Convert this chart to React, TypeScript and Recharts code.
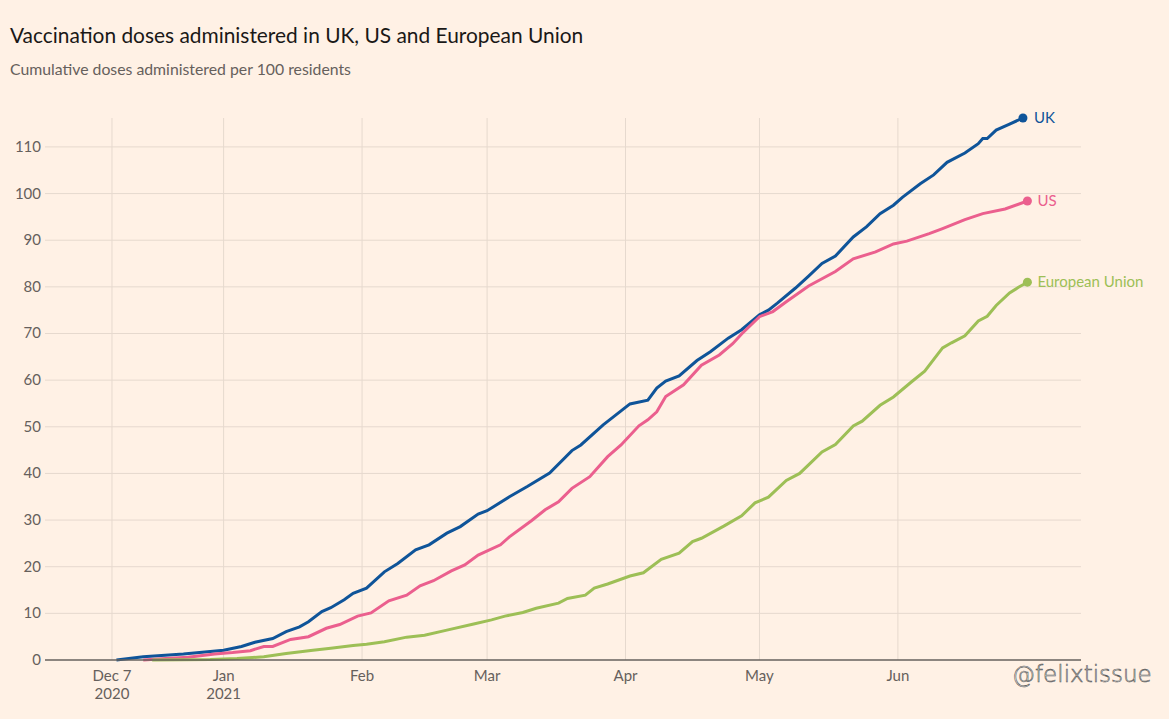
import React from 'react';
import { LineChart, Line, XAxis, YAxis, ReferenceLine } from 'recharts';

// ---- Data (cumulative doses per 100 residents) ----
const ukDates = [
  '2020-12-08', '2020-12-14', '2020-12-23', '2021-01-01', '2021-01-05', '2021-01-08', '2021-01-12',
  '2021-01-15', '2021-01-18', '2021-01-20', '2021-01-23', '2021-01-25', '2021-01-28', '2021-01-30',
  '2021-02-02', '2021-02-06', '2021-02-09', '2021-02-13', '2021-02-16', '2021-02-20', '2021-02-23',
  '2021-02-27', '2021-03-01', '2021-03-06', '2021-03-10', '2021-03-15', '2021-03-20', '2021-03-22',
  '2021-03-27', '2021-03-29', '2021-04-02', '2021-04-06', '2021-04-08', '2021-04-10', '2021-04-13',
  '2021-04-17', '2021-04-20', '2021-04-24', '2021-04-27', '2021-05-01', '2021-05-03', '2021-05-05',
  '2021-05-09', '2021-05-12', '2021-05-15', '2021-05-18', '2021-05-22', '2021-05-25', '2021-05-28',
  '2021-05-31', '2021-06-02', '2021-06-06', '2021-06-09', '2021-06-12', '2021-06-16', '2021-06-19',
  '2021-06-20', '2021-06-21', '2021-06-23', '2021-06-26', '2021-06-29',
];
const ukDoses = [
  0, 0.7, 1.3, 2.1, 2.9, 3.8, 4.6,
  6.1, 7.1, 8.2, 10.4, 11.2, 12.9, 14.3,
  15.4, 18.9, 20.7, 23.6, 24.7, 27.2, 28.6,
  31.3, 32.0, 35.0, 37.2, 40.1, 44.9, 46.1,
  50.4, 51.9, 54.9, 55.7, 58.3, 59.8, 60.9,
  64.2, 66.1, 69.0, 70.8, 74.0, 75.0, 76.5,
  79.7, 82.3, 85.0, 86.6, 90.7, 92.9, 95.7,
  97.5, 99.2, 102.1, 104.0, 106.7, 108.7, 110.7,
  111.8, 111.8, 113.6, 114.9, 116.2,
];

const usDates = [
  '2020-12-14', '2020-12-19', '2020-12-24', '2020-12-30', '2021-01-03', '2021-01-07', '2021-01-10',
  '2021-01-12', '2021-01-16', '2021-01-20', '2021-01-24', '2021-01-27', '2021-01-31', '2021-02-03',
  '2021-02-07', '2021-02-11', '2021-02-14', '2021-02-17', '2021-02-21', '2021-02-24', '2021-02-27',
  '2021-03-04', '2021-03-06', '2021-03-11', '2021-03-14', '2021-03-17', '2021-03-20', '2021-03-24',
  '2021-03-28', '2021-03-31', '2021-04-04', '2021-04-06', '2021-04-08', '2021-04-10', '2021-04-14',
  '2021-04-18', '2021-04-22', '2021-04-25', '2021-04-27', '2021-05-01', '2021-05-04', '2021-05-07',
  '2021-05-12', '2021-05-18', '2021-05-22', '2021-05-27', '2021-05-31', '2021-06-03', '2021-06-08',
  '2021-06-11', '2021-06-16', '2021-06-20', '2021-06-25', '2021-06-30',
];
const usDoses = [
  0, 0.3, 0.6, 1.3, 1.6, 2.0, 2.9,
  2.9, 4.4, 5.0, 6.8, 7.6, 9.4, 10.1,
  12.7, 13.9, 15.9, 17.0, 19.1, 20.4, 22.5,
  24.7, 26.4, 29.9, 32.2, 33.9, 36.8, 39.3,
  43.6, 46.1, 50.2, 51.5, 53.2, 56.5, 59.0,
  63.2, 65.4, 67.8, 69.9, 73.6, 74.7, 76.8,
  80.2, 83.3, 86.0, 87.5, 89.2, 89.8, 91.4,
  92.5, 94.4, 95.7, 96.7, 98.4,
];

const euDates = [
  '2020-12-16', '2020-12-29', '2021-01-04', '2021-01-10', '2021-01-15', '2021-01-21', '2021-01-25',
  '2021-01-30', '2021-02-02', '2021-02-06', '2021-02-11', '2021-02-15', '2021-02-20', '2021-02-26',
  '2021-03-02', '2021-03-05', '2021-03-09', '2021-03-12', '2021-03-17', '2021-03-19', '2021-03-23',
  '2021-03-25', '2021-03-28', '2021-04-02', '2021-04-05', '2021-04-09', '2021-04-13', '2021-04-16',
  '2021-04-18', '2021-04-23', '2021-04-27', '2021-04-30', '2021-05-03', '2021-05-07', '2021-05-10',
  '2021-05-15', '2021-05-18', '2021-05-22', '2021-05-24', '2021-05-28', '2021-05-31', '2021-06-04',
  '2021-06-07', '2021-06-11', '2021-06-13', '2021-06-16', '2021-06-19', '2021-06-21', '2021-06-23',
  '2021-06-26', '2021-06-28', '2021-06-30',
];
const euDoses = [
  0, 0.1, 0.3, 0.7, 1.4, 2.1, 2.5,
  3.1, 3.4, 3.9, 4.9, 5.3, 6.4, 7.7,
  8.6, 9.4, 10.2, 11.1, 12.2, 13.2, 13.9,
  15.4, 16.3, 18.0, 18.7, 21.6, 22.9, 25.4,
  26.1, 28.7, 30.9, 33.7, 34.9, 38.5, 40.0,
  44.6, 46.2, 50.2, 51.2, 54.6, 56.4, 59.6,
  61.9, 66.9, 68.0, 69.5, 72.7, 73.7, 76.0,
  78.7, 79.9, 81.0,
];

const seriesNames = ['UK', 'US', 'European Union'];
const xTickDates = ['2020-12-07', '2021-01-01', '2021-02-01', '2021-03-01', '2021-04-01', '2021-05-01', '2021-06-01'];
const xTickLabels = [['Dec 7', '2020'], ['Jan', '2021'], ['Feb'], ['Mar'], ['Apr'], ['May'], ['Jun']];
const yTicks = [0, 10, 20, 30, 40, 50, 60, 70, 80, 90, 100, 110];
const xDomainDates = ['2020-11-22', '2021-07-12'];

// ---- Helpers ----
const ts = (s: string) => Date.parse(s + 'T00:00:00Z');
const build = (dates: string[], vals: number[]) => dates.map((d, i) => ({ t: ts(d), v: vals[i] }));

const ukData = build(ukDates, ukDoses);
const usData = build(usDates, usDoses);
const euData = build(euDates, euDoses);

const COLORS = { uk: '#0f5499', us: '#eb5f8e', eu: '#9dbf56' };
const FONT = 'Lato, "Noto Sans", sans-serif';
const TEXT_GREY = '#66605c';
const GRID = '#e6d9ce';

const tickLabelMap: Record<number, string[]> = {};
xTickDates.forEach((d, i) => { tickLabelMap[ts(d)] = xTickLabels[i]; });

const XTick = (props: any) => {
  const { x, y, payload } = props;
  const lines = tickLabelMap[payload.value] || [];
  return (
    <text x={x} y={y} textAnchor="middle" fill={TEXT_GREY} fontSize={15} fontFamily={FONT}>
      {lines.map((l, i) => (
        <tspan key={i} x={x} dy={i === 0 ? 13 : 18}>{l}</tspan>
      ))}
    </text>
  );
};

const YTick = (props: any) => {
  const { x, y, payload } = props;
  return (
    <text x={x} y={y} dy={5} textAnchor="end" fill={TEXT_GREY} fontSize={15} fontFamily={FONT}>
      {payload.value}
    </text>
  );
};

const makeEndDot = (len: number, color: string, name: string, gap: number) => (props: any) => {
  const { cx, cy, index } = props;
  if (index !== len - 1) return <g key={`d-${name}-${index}`} />;
  return (
    <g key={`d-${name}-${index}`}>
      <circle cx={cx} cy={cy} r={4.5} fill={color} />
      <text x={cx + gap} y={cy} dy={5} fill={color} fontSize={15} fontFamily={FONT}>{name}</text>
    </g>
  );
};

export default function App() {
  return (
    <div style={{ position: 'relative', width: 1169, height: 719, background: '#fff1e5', overflow: 'hidden' }}>
      <style>{`body{margin:0;background:#fff1e5;}`}</style>
      <div style={{ position: 'absolute', left: 10, top: 22, fontFamily: FONT, fontSize: 20.9, color: '#1a1817', whiteSpace: 'nowrap' }}>
        Vaccination doses administered in UK, US and European Union
      </div>
      <div style={{ position: 'absolute', left: 10, top: 59, fontFamily: FONT, fontSize: 15.8, color: TEXT_GREY, whiteSpace: 'nowrap' }}>
        Cumulative doses administered per 100 residents
      </div>
      <div style={{ position: 'absolute', left: 0, top: 0 }}>
        <LineChart width={1169} height={719} margin={{ top: 118, right: 88, bottom: 9, left: 0 }}>
          <XAxis
            type="number"
            dataKey="t"
            domain={[ts(xDomainDates[0]), ts(xDomainDates[1])]}
            ticks={xTickDates.map(ts)}
            tick={<XTick />}
            tickLine={false}
            axisLine={{ stroke: TEXT_GREY, strokeWidth: 1.6 }}
            height={50}
            interval={0}
          />
          <YAxis
            type="number"
            domain={[0, 116.2]}
            ticks={yTicks}
            tick={<YTick />}
            tickLine={false}
            axisLine={false}
            tickSize={0}
            tickMargin={4}
            width={45}
            interval={0}
          />
          {xTickDates.map((d) => (
            <ReferenceLine key={`vx-${d}`} x={ts(d)} stroke={GRID} strokeWidth={1} />
          ))}
          {yTicks.filter((v) => v > 0).map((v) => (
            <ReferenceLine key={`hy-${v}`} y={v} stroke={GRID} strokeWidth={1} />
          ))}
          <Line data={ukData} dataKey="v" type="linear" stroke={COLORS.uk} strokeWidth={3}
            dot={makeEndDot(ukData.length, COLORS.uk, seriesNames[0], 11)} activeDot={false} isAnimationActive={false} />
          <Line data={usData} dataKey="v" type="linear" stroke={COLORS.us} strokeWidth={3}
            dot={makeEndDot(usData.length, COLORS.us, seriesNames[1], 10)} activeDot={false} isAnimationActive={false} />
          <Line data={euData} dataKey="v" type="linear" stroke={COLORS.eu} strokeWidth={3}
            dot={makeEndDot(euData.length, COLORS.eu, seriesNames[2], 10)} activeDot={false} isAnimationActive={false} />
        </LineChart>
      </div>
      <div style={{ position: 'absolute', left: 1012, top: 661, fontFamily: '"DejaVu Sans", sans-serif', fontSize: 23, fontWeight: 300, color: '#ffffff', WebkitTextStroke: '0.6px #555', whiteSpace: 'nowrap' }}>
        @felixtissue
      </div>
    </div>
  );
}
